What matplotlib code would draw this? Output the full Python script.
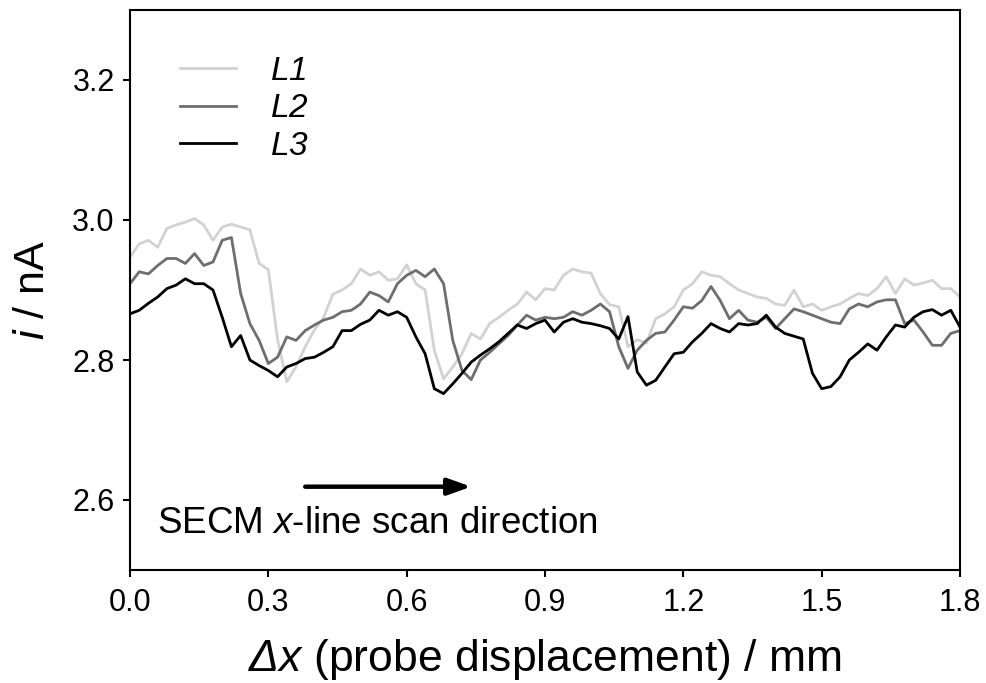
import matplotlib
matplotlib.use("Agg")
import matplotlib.pyplot as plt
import numpy as np

# Ajustes de fuente (tipo Arial); todo lo que va entre $...$ sale en cursiva
plt.rcParams['font.family'] = ['Liberation Sans', 'DejaVu Sans']
plt.rcParams['mathtext.fontset'] = 'custom'
plt.rcParams['mathtext.rm'] = 'Liberation Sans:italic'
plt.rcParams['mathtext.it'] = 'Liberation Sans:italic'

# Desplazamiento de la sonda (mm), paso de 0.02
x_mm = np.round(np.arange(0, 1.8001, 0.02), 2)

corriente_L1 = [
    2.947, 2.966, 2.971, 2.961, 2.988, 2.993, 2.997, 3.002, 2.993, 2.971,
    2.990, 2.994, 2.990, 2.986, 2.938, 2.929, 2.829, 2.769, 2.790, 2.819,
    2.843, 2.861, 2.894, 2.900, 2.909, 2.930, 2.921, 2.926, 2.914, 2.916,
    2.936, 2.909, 2.900, 2.814, 2.773, 2.790, 2.809, 2.838, 2.830, 2.852,
    2.861, 2.871, 2.880, 2.897, 2.886, 2.902, 2.900, 2.921, 2.930, 2.926,
    2.924, 2.895, 2.879, 2.876, 2.819, 2.829, 2.824, 2.859, 2.866, 2.876,
    2.900, 2.909, 2.926, 2.921, 2.919, 2.909, 2.900, 2.895, 2.890, 2.888,
    2.880, 2.878, 2.900, 2.876, 2.880, 2.871, 2.876, 2.880, 2.888, 2.895,
    2.892, 2.902, 2.919, 2.895, 2.916, 2.907, 2.910, 2.914, 2.902, 2.902,
    2.890,
]

corriente_L2 = [
    2.909, 2.926, 2.923, 2.935, 2.945, 2.945, 2.938, 2.952, 2.935, 2.940,
    2.971, 2.975, 2.895, 2.852, 2.828, 2.795, 2.804, 2.833, 2.828, 2.842,
    2.850, 2.857, 2.861, 2.869, 2.871, 2.880, 2.897, 2.892, 2.883, 2.909,
    2.921, 2.928, 2.919, 2.930, 2.909, 2.828, 2.785, 2.772, 2.800, 2.811,
    2.823, 2.835, 2.850, 2.864, 2.857, 2.861, 2.859, 2.861, 2.869, 2.864,
    2.871, 2.880, 2.869, 2.819, 2.788, 2.814, 2.828, 2.838, 2.840, 2.857,
    2.876, 2.874, 2.885, 2.905, 2.885, 2.859, 2.871, 2.857, 2.854, 2.861,
    2.845, 2.859, 2.873, 2.869, 2.864, 2.859, 2.854, 2.852, 2.873, 2.880,
    2.876, 2.883, 2.886, 2.886, 2.852, 2.857, 2.840, 2.821, 2.821, 2.838,
    2.842,
]

corriente_L3 = [
    2.866, 2.871, 2.881, 2.890, 2.902, 2.907, 2.916, 2.909, 2.909, 2.900,
    2.861, 2.819, 2.835, 2.800, 2.792, 2.785, 2.776, 2.790, 2.795, 2.802,
    2.804, 2.811, 2.819, 2.842, 2.842, 2.851, 2.857, 2.871, 2.864, 2.869,
    2.861, 2.833, 2.809, 2.759, 2.752, 2.766, 2.781, 2.797, 2.807, 2.816,
    2.826, 2.838, 2.850, 2.845, 2.852, 2.857, 2.840, 2.854, 2.859, 2.854,
    2.852, 2.849, 2.845, 2.830, 2.862, 2.783, 2.764, 2.771, 2.790, 2.809,
    2.811, 2.826, 2.838, 2.852, 2.845, 2.840, 2.852, 2.850, 2.852, 2.864,
    2.847, 2.838, 2.834, 2.830, 2.781, 2.759, 2.762, 2.776, 2.800, 2.811,
    2.823, 2.814, 2.833, 2.850, 2.847, 2.861, 2.869, 2.872, 2.864, 2.871,
    2.847,
]

series = [
    ('L1', corriente_L1, '#d2d2d2'),
    ('L2', corriente_L2, '#6e6e6e'),
    ('L3', corriente_L3, '#000000'),
]

fig = plt.figure(figsize=(9.87, 6.83), dpi=100)
ax = fig.add_axes([130 / 987, 113 / 683, 830 / 987, 560 / 683])

for nombre, valores, color in series:
    ax.plot(x_mm, valores, color=color, lw=2.0, label='$' + nombre + '$')

ax.set_xlim(0, 1.8)
ax.set_ylim(2.5, 3.3)
ax.set_xticks(np.arange(0, 1.81, 0.3))
ax.set_yticks([2.6, 2.8, 3.0, 3.2])
ax.xaxis.set_major_formatter(matplotlib.ticker.FormatStrFormatter('%.1f'))
ax.yaxis.set_major_formatter(matplotlib.ticker.FormatStrFormatter('%.1f'))
ax.tick_params(axis='both', direction='out', length=5, width=1.5, labelsize=22)
ax.tick_params(axis='x', pad=8)
ax.tick_params(axis='y', pad=6)
for sp in ax.spines.values():
    sp.set_linewidth(1.5)

ax.set_xlabel(r'$\Delta x$ (probe displacement) / mm', fontsize=32, labelpad=14)
ax.set_ylabel(r'$i$ / nA', fontsize=31, labelpad=14)

leg = ax.legend(loc='upper left', bbox_to_anchor=(0.06, 0.918), frameon=False,
                fontsize=24, handlelength=1.7, handletextpad=1.0, labelspacing=0.19,
                borderpad=0, borderaxespad=0)

# Flecha de dirección de barrido
ax.annotate('', xy=(0.74, 2.619), xytext=(0.38, 2.619),
            arrowprops=dict(arrowstyle='-|>,head_length=1.4,head_width=0.5', color='black',
                            lw=3.2, shrinkA=0, shrinkB=0))
ax.text(0.058, 2.566, r'SECM $x$-line scan direction', fontsize=26.5, va='center', ha='left')

plt.savefig('out.png', dpi=100)
